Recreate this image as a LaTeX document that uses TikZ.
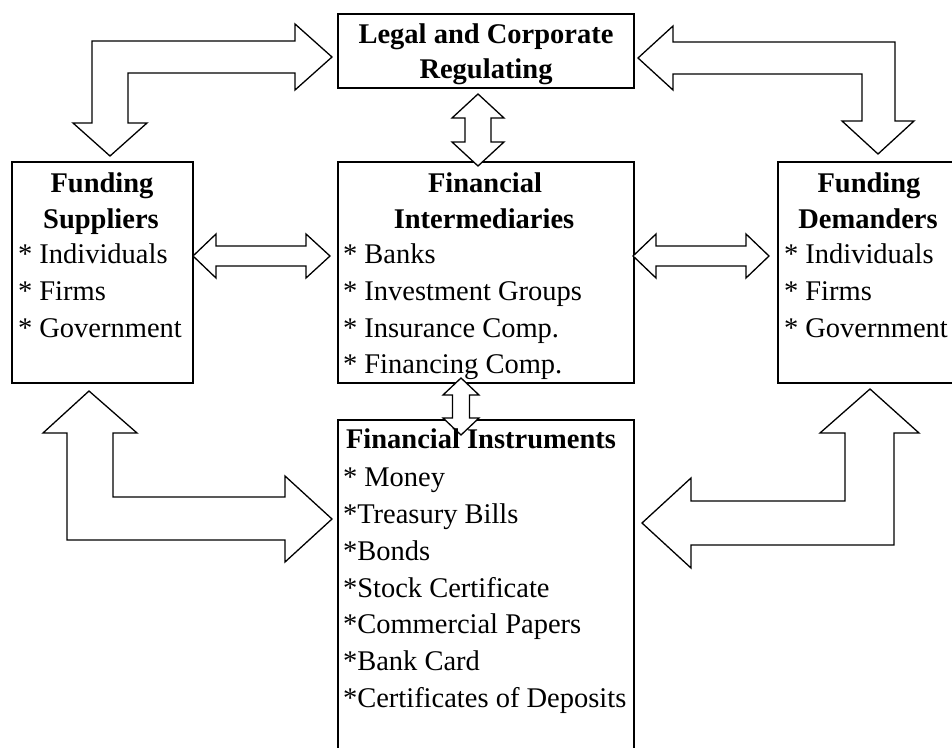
\documentclass[tikz,border=0pt]{standalone}
\usepackage{fontspec}
\setmainfont{Liberation Serif}
\begin{document}
\begin{tikzpicture}[x=1pt,y=-1pt,
  box/.style={draw=black,line width=2.2pt,fill=none,inner sep=0pt,outer sep=0pt},
  blockarrow/.style={draw=black,line width=1.3pt,fill=white,line join=miter},
  txt/.style={inner sep=0pt,outer sep=0pt,font=\fontsize{28.5}{37}\selectfont},
  ttl/.style={txt,font=\fontsize{28.5}{37}\selectfont\bfseries,anchor=base},
  item/.style={txt,anchor=base west}]
\clip (0,0) rectangle (952,747);
\fill[white] (0,0) rectangle (952,747);
% boxes
\node[box,minimum width=296pt,minimum height=74pt] (legal) at (486,51) {};
\node[box,minimum width=181pt,minimum height=221pt] (sup) at (102.5,272.5) {};
\node[box,minimum width=296pt,minimum height=221pt] (int) at (486,272.5) {};
\node[box,minimum width=260pt,minimum height=221pt,anchor=north west] (dem) at (778,162) {};
\node[box,minimum width=296pt,minimum height=360pt,anchor=north west] (ins) at (338,420) {};
% block arrows
\draw[blockarrow] (332,57) -- (295,90) -- (295,73) -- (128,73) -- (128,123) -- (147,123) -- (110,156) -- (73,123) -- (92,123) -- (92,41) -- (295,41) -- (295,24) -- cycle;
\draw[blockarrow] (638,58) -- (673,26) -- (673,42) -- (895,42) -- (895,121) -- (914,121) -- (878,154) -- (842,121) -- (862,121) -- (862,74) -- (673,74) -- (673,90) -- cycle;
\draw[blockarrow] (478,94) -- (504,118) -- (491,118) -- (491,142) -- (504,142) -- (478,166) -- (452,142) -- (465,142) -- (465,118) -- (452,118) -- cycle;
\draw[blockarrow] (193,256) -- (216,234) -- (216,246) -- (306,246) -- (306,234) -- (330,256) -- (306,278) -- (306,266) -- (216,266) -- (216,278) -- cycle;
\draw[blockarrow] (633,256) -- (656,234) -- (656,246) -- (746,246) -- (746,234) -- (769,256) -- (746,278) -- (746,266) -- (656,266) -- (656,278) -- cycle;
\draw[blockarrow] (461,378) -- (479,395) -- (469.5,395) -- (469.5,418) -- (479,418) -- (461,435) -- (443,418) -- (452.5,418) -- (452.5,395) -- (443,395) -- cycle;
\draw[blockarrow] (89,391) -- (137,433) -- (113,433) -- (113,497) -- (285,497) -- (285,476) -- (332,519) -- (285,562) -- (285,540) -- (67,540) -- (67,433) -- (43,433) -- cycle;
\draw[blockarrow] (870,389) -- (919,433) -- (894,433) -- (894,545) -- (691,545) -- (691,568) -- (642,523) -- (691,478) -- (691,501) -- (845,501) -- (845,433) -- (820,433) -- cycle;
% texts
\node[ttl] (legal1) at (486,43) {Legal and Corporate};
\node[ttl] (legal2) at (486,78) {Regulating};
\node[ttl] (sup1) at (102,192) {Funding};
\node[ttl] (sup2) at (101,228) {Suppliers};
\node[item] (sup3) at (18,263) {* Individuals};
\node[item] (sup4) at (18,300) {* Firms};
\node[item] (sup5) at (18,337) {* Government};
\node[ttl] (int1) at (485,192) {Financial};
\node[ttl] (int2) at (484,228) {Intermediaries};
\node[item] (int3) at (343,263) {* Banks};
\node[item] (int4) at (343,300) {* Investment Groups};
\node[item] (int5) at (343,337) {* Insurance Comp.};
\node[item] (int6) at (343,373) {* Financing Comp.};
\node[ttl] (dem1) at (869,192) {Funding};
\node[ttl] (dem2) at (868,228) {Demanders};
\node[item] (dem3) at (784,263) {* Individuals};
\node[item] (dem4) at (784,300) {* Firms};
\node[item] (dem5) at (784,337) {* Government};
\node[ttl,anchor=base west] (ins1) at (346,448) {Financial Instruments};
\node[item] (ins2) at (343,486) {* Money};
\node[item] (ins3) at (343,523) {*Treasury Bills};
\node[item] (ins4) at (343,560) {*Bonds};
\node[item] (ins5) at (343,597) {*Stock Certificate};
\node[item] (ins6) at (343,633) {*Commercial Papers};
\node[item] (ins7) at (343,670) {*Bank Card};
\node[item] (ins8) at (343,707) {*Certificates of Deposits};
\end{tikzpicture}
\end{document}
